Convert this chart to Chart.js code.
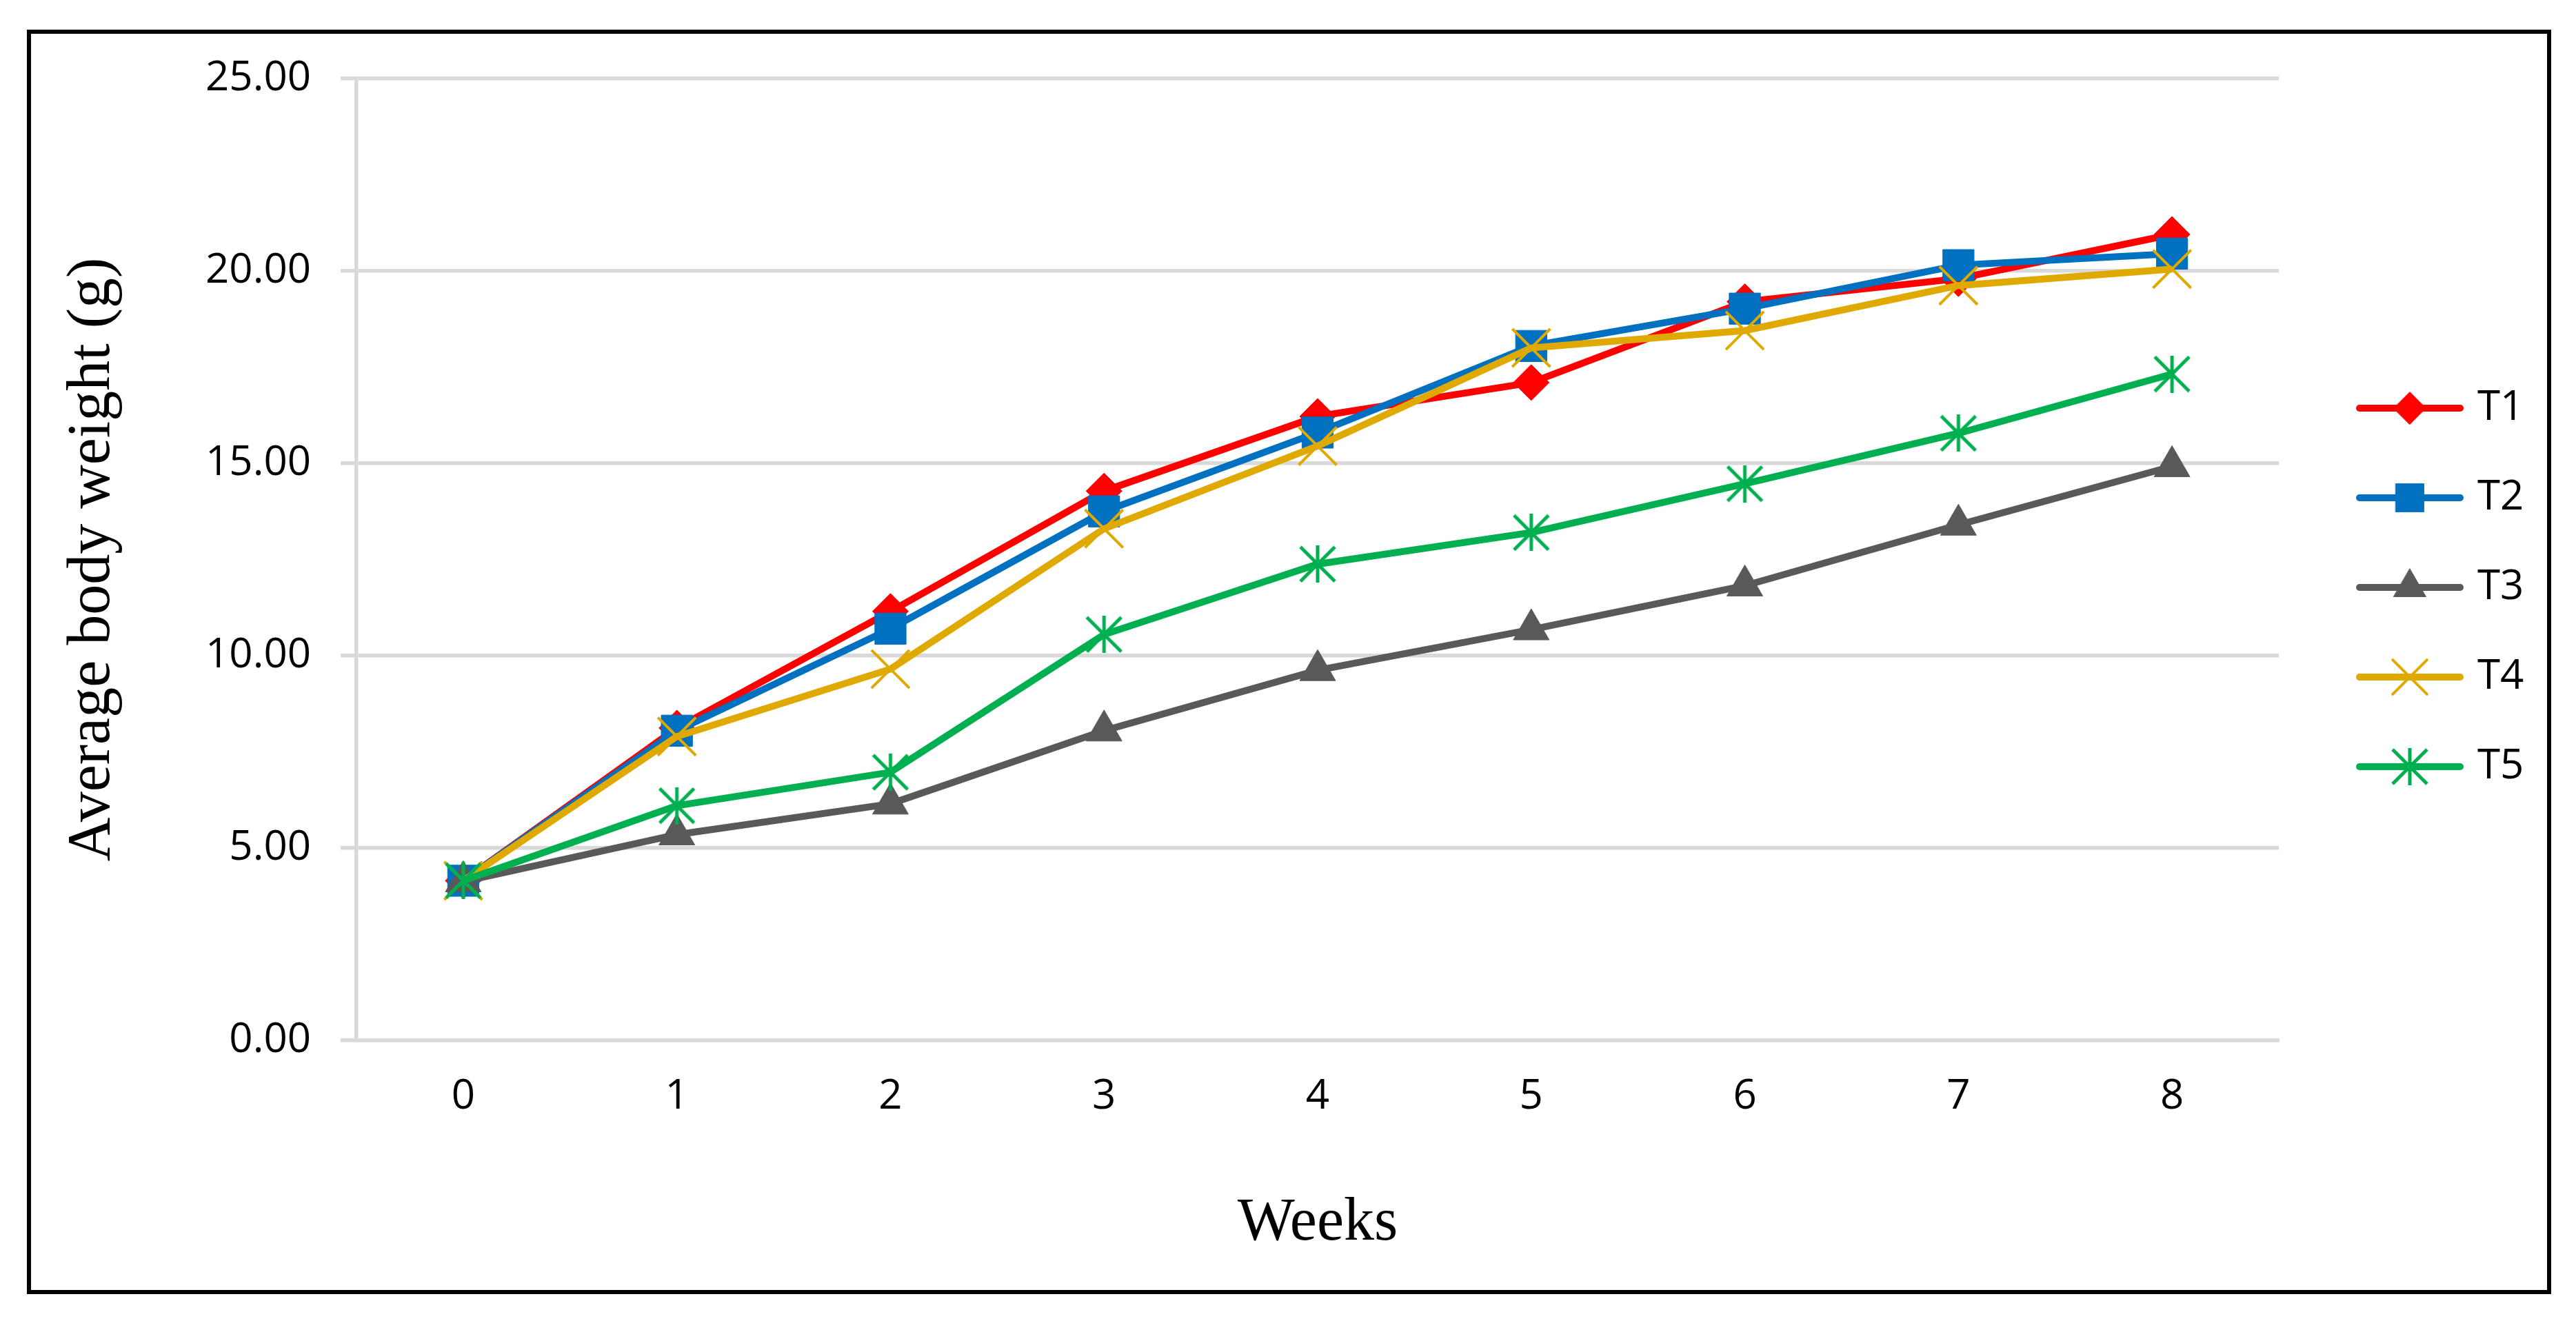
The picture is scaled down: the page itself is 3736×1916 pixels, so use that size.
<!DOCTYPE html>
<html>
<head>
<meta charset="utf-8">
<script src="https://cdn.jsdelivr.net/npm/chart.js@4.4.1/dist/chart.umd.min.js"></script>
<style>
html,body{margin:0;padding:0;background:#fff;overflow:hidden}
#wrap{position:relative;width:3736px;height:1916px}
</style>
</head>
<body>
<div id="wrap"><canvas id="c" width="3736" height="1916"></canvas></div>
<script>
// ---- data ----
const weeks = ['0', '1', '2', '3', '4', '5', '6', '7', '8'];
const seriesNames = ['T1', 'T2', 'T3', 'T4', 'T5'];
const t1Values = [4.15, 8.12, 11.15, 14.28, 16.22, 17.10, 19.20, 19.80, 20.95];
const t2Values = [4.15, 8.05, 10.70, 13.75, 15.80, 18.05, 19.02, 20.15, 20.45];
const t3Values = [4.13, 5.35, 6.15, 8.05, 9.62, 10.68, 11.82, 13.40, 14.92];
const t4Values = [4.15, 7.90, 9.65, 13.30, 15.45, 18.00, 18.45, 19.62, 20.05];
const t5Values = [4.15, 6.10, 6.97, 10.55, 12.38, 13.20, 14.47, 15.78, 17.32];
const yTickValues = [0, 5, 10, 15, 20, 25];
const xTitle = 'Weeks';
const yTitle = 'Average body weight (g)';

// ---- styles ----
function makeAsterisk(color, size, lw) {
  const c = document.createElement('canvas');
  c.width = size; c.height = size;
  const g = c.getContext('2d');
  g.strokeStyle = color; g.lineWidth = lw; g.lineCap = 'butt';
  const h = size / 2, d = lw * 0.4;
  g.beginPath();
  g.moveTo(h, 0); g.lineTo(h, size);
  g.moveTo(d, d); g.lineTo(size - d, size - d);
  g.moveTo(size - d, d); g.lineTo(d, size - d);
  g.stroke();
  return c;
}
const colors = ['#FF0000', '#0070C0', '#595959', '#E0A900', '#00B050'];
const asterisk = makeAsterisk(colors[4], 54, 5);
const markers = [
  {pointStyle: 'rectRot', radius: 26, borderWidth: 1},
  {pointStyle: 'rect', radius: 32, borderWidth: 1},
  {pointStyle: 'triangle', radius: 30, borderWidth: 1},
  {pointStyle: 'crossRot', radius: 39, borderWidth: 4},
  {pointStyle: asterisk, radius: 27, borderWidth: 5}
];
const LINE_W = 10;

function makeLegendImage(i) {
  const w = 156, h = 70;
  const c = document.createElement('canvas');
  c.width = w; c.height = h;
  const g = c.getContext('2d');
  g.strokeStyle = colors[i]; g.lineWidth = 10; g.lineCap = 'round';
  g.beginPath(); g.moveTo(5, h / 2); g.lineTo(w - 5, h / 2); g.stroke();
  const m = markers[i];
  if (typeof m.pointStyle === 'string') {
    g.fillStyle = colors[i]; g.strokeStyle = colors[i]; g.lineWidth = m.borderWidth;
    Chart.helpers.drawPoint(g, {pointStyle: m.pointStyle, radius: m.radius * 0.9, borderWidth: m.borderWidth, rotation: 0}, w / 2, h / 2);
  } else {
    g.drawImage(m.pointStyle, w / 2 - m.pointStyle.width / 2, h / 2 - m.pointStyle.height / 2);
  }
  return c;
}
const legendImages = seriesNames.map((_, i) => makeLegendImage(i));

const allValues = [t1Values, t2Values, t3Values, t4Values, t5Values];
const datasets = seriesNames.map((name, i) => ({
  label: name,
  data: allValues[i],
  borderColor: colors[i],
  backgroundColor: colors[i],
  borderWidth: LINE_W,
  tension: 0,
  pointStyle: markers[i].pointStyle,
  pointRadius: markers[i].radius,
  pointHoverRadius: markers[i].radius,
  pointBorderWidth: markers[i].borderWidth,
  pointBackgroundColor: colors[i],
  pointBorderColor: colors[i],
  order: seriesNames.length - 1 - i
}));

const frame = {
  id: 'frame',
  beforeDraw(chart) {
    const ctx = chart.ctx;
    ctx.save();
    ctx.fillStyle = '#fff';
    ctx.fillRect(0, 0, chart.width, chart.height);
    ctx.restore();
  },
  afterDraw(chart) {
    const ctx = chart.ctx;
    ctx.save();
    ctx.strokeStyle = '#000';
    ctx.lineWidth = 6;
    ctx.strokeRect(42, 46, 3655, 1828);
    ctx.restore();
  }
};

const legendPlace = {
  id: 'legendPlace',
  afterLayout(chart) {
    const L = chart.legend;
    if (!L) return;
    L.left = 3357; L.right = 3736;
    L.top = 492; L.bottom = 1870;
    L.width = L.right - L.left; L.height = L.bottom - L.top;
  }
};

new Chart(document.getElementById('c'), {
  type: 'line',
  data: {labels: weeks, datasets: datasets},
  plugins: [frame, legendPlace],
  options: {
    responsive: false,
    animation: false,
    devicePixelRatio: 1,
    layout: {padding: {left: 0, top: 114, right: 431, bottom: 0}},
    plugins: {
      tooltip: {enabled: false},
      title: {display: false},
      legend: {
        display: true,
        position: 'chartArea',
        align: 'start',
        labels: {
          usePointStyle: true,
          pointStyleWidth: 136,
          padding: 70,
          color: '#000',
          font: {family: 'Open Sans', size: 60},
          generateLabels(chart) {
            return seriesNames.map((name, i) => ({
              text: name,
              datasetIndex: i,
              pointStyle: legendImages[i],
              fillStyle: colors[i],
              strokeStyle: colors[i],
              lineWidth: 0,
              hidden: false,
              fontColor: '#000'
            }));
          }
        }
      }
    },
    scales: {
      x: {
        type: 'category',
        offset: true,
        grid: {display: false, drawTicks: false, tickLength: 0},
        border: {display: true, color: '#D9D9D9', width: 5.5},
        ticks: {color: '#000', padding: 46, font: {family: 'Open Sans', size: 60}, maxRotation: 0},
        title: {display: true, text: xTitle, color: '#000', font: {family: 'Liberation Serif', size: 88}, padding: {top: 0, bottom: 88}},
        afterFit(scale) { scale.height = 407; }
      },
      y: {
        type: 'linear',
        min: yTickValues[0],
        max: yTickValues[yTickValues.length - 1],
        afterBuildTicks(scale) { scale.ticks = yTickValues.map(v => ({value: v})); },
        grid: {display: true, color: '#D9D9D9', lineWidth: 5.5, drawTicks: true, tickLength: 23},
        border: {display: true, color: '#D9D9D9', width: 5.5},
        ticks: {color: '#000', padding: 43, font: {family: 'Open Sans', size: 60}, callback: v => Number(v).toFixed(2)},
        title: {display: true, text: yTitle, color: '#000', font: {family: 'Liberation Serif', size: 88}, padding: {top: 82, bottom: 0}},
        afterFit(scale) { scale.width = 517; }
      }
    }
  }
});
</script>
</body>
</html>
